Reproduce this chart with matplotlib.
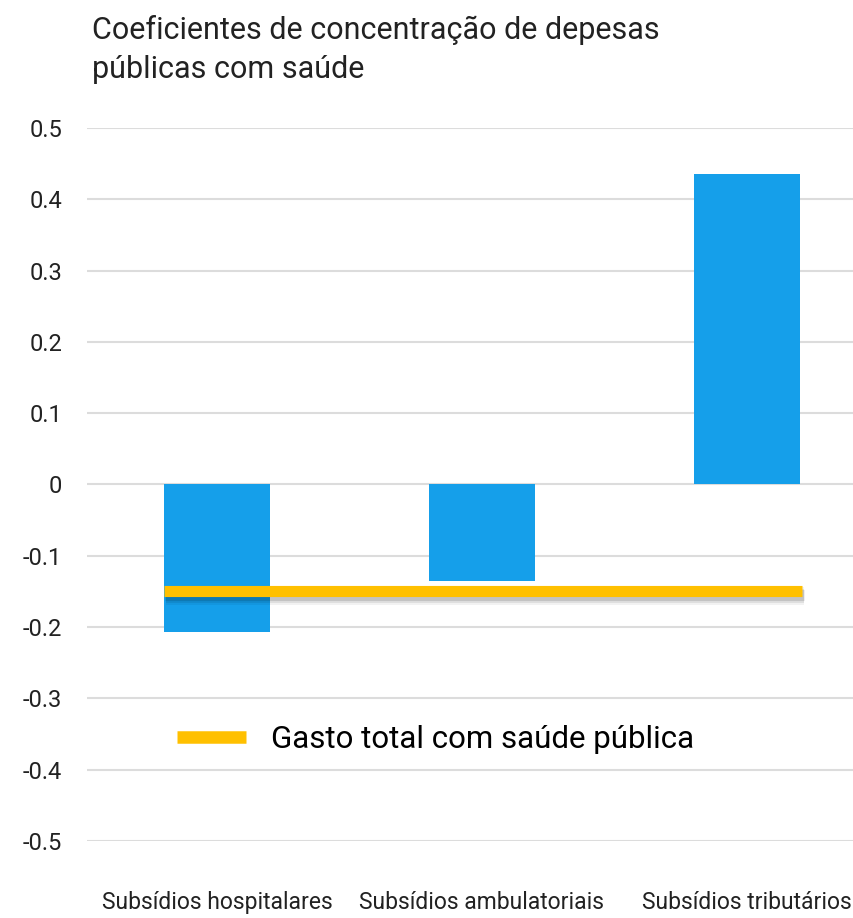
import matplotlib.pyplot as plt
import matplotlib.patheffects as pe

plt.rcParams['font.family'] = ['Roboto', 'DejaVu Sans']

categories = ['Subsídios hospitalares', 'Subsídios ambulatoriais', 'Subsídios tributários']
coefs = [-0.207, -0.136, 0.436]
total_label = 'Gasto total com saúde pública'
total_value = -0.150
yticks = [0.5, 0.4, 0.3, 0.2, 0.1, 0, -0.1, -0.2, -0.3, -0.4, -0.5]
ytick_labels = ['0.5', '0.4', '0.3', '0.2', '0.1', '0', '-0.1', '-0.2', '-0.3', '-0.4', '-0.5']

blue = '#159FEA'
yellow = '#FFC000'

fig = plt.figure(figsize=(8.54, 9.18), dpi=100)
ax = fig.add_axes([0.102, 0.0839, 0.898, 0.7767])

x = list(range(len(categories)))
ax.bar(x, coefs, width=0.4, color=blue, zorder=2)

line, = ax.plot([x[0] - 0.2, x[-1] + 0.21], [total_value, total_value], color=yellow,
                linewidth=8, solid_capstyle='butt', zorder=3, label=total_label)
line.set_path_effects([
    pe.Stroke(offset=(1.5, -3), linewidth=13, foreground='black', alpha=0.05),
    pe.Stroke(offset=(1.5, -3), linewidth=10, foreground='black', alpha=0.08),
    pe.Stroke(offset=(1.0, -2.5), linewidth=8, foreground='black', alpha=0.12),
    pe.Normal()])

ax.set_xlim(-0.49, 2.405)
ax.set_ylim(-0.5, 0.5)
ax.set_yticks(yticks)
ax.set_yticklabels(ytick_labels)
ax.set_xticks(x)
ax.set_xticklabels(categories)
ax.grid(axis='y', color='#dcdcdc', linewidth=1.5, zorder=0)
ax.set_axisbelow(True)
for s in ax.spines.values():
    s.set_visible(False)
ax.tick_params(axis='y', length=0, pad=18, labelsize=17, labelcolor='#222222')
ax.tick_params(axis='x', length=0, pad=36, labelsize=16.5, labelcolor='#222222')

leg = ax.legend(handles=[line], loc='center left', bbox_to_anchor=(0.117, 0.142),
                frameon=False, fontsize=22.5, handlelength=2.2, handletextpad=0.8,
                borderpad=0, borderaxespad=0)
for h in leg.legend_handles:
    h.set_path_effects([pe.Normal()])
    h.set_linewidth(9)

fig.text(0.108, 0.984, 'Coeficientes de concentração de depesas\npúblicas com saúde',
         fontsize=22, va='top', ha='left', color='#222222', linespacing=1.45)

fig.savefig('out.png', dpi=100)
